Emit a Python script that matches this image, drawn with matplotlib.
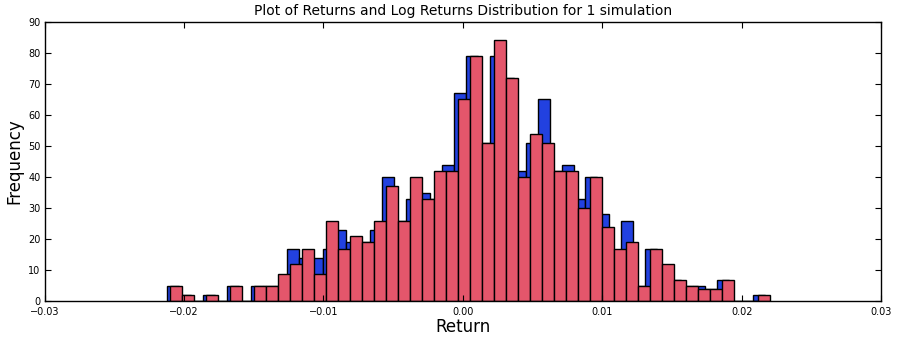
import numpy as np
import matplotlib
matplotlib.use("Agg")
import matplotlib.pyplot as plt

# ---- data ----
# Log returns (blue): 50 bins over [logret_min, logret_max]
logret_min, logret_max = -0.02120, 0.02163
logret_counts = [5, 2, 0, 2, 0, 5, 0, 5, 5, 5,
                 17, 14, 14, 17, 23, 19, 19, 23, 40, 26,
                 33, 35, 33, 44, 67, 79, 51, 79, 72, 42,
                 51, 65, 42, 44, 33, 40, 28, 16, 26, 5,
                 17, 11, 7, 5, 5, 4, 7, 0, 0, 2]
# Simple returns (red): 50 bins over [ret_min, ret_max]
ret_min, ret_max = -0.02098, 0.02203
ret_counts = [5, 2, 0, 2, 0, 5, 0, 5, 5, 9,
              12, 17, 9, 26, 17, 21, 19, 26, 37, 26,
              40, 33, 42, 42, 65, 79, 51, 84, 72, 40,
              54, 51, 42, 42, 30, 40, 24, 17, 19, 5,
              17, 12, 7, 5, 4, 4, 7, 0, 0, 2]

title = "Plot of Returns and Log Returns Distribution for 1 simulation"
xlabel = "Return"
ylabel = "Frequency"
xticks = [-0.03, -0.02, -0.01, 0.00, 0.01, 0.02, 0.03]
yticks = list(range(0, 91, 10))

# ---- figure ----
fig = plt.figure(figsize=(8.99, 3.43), dpi=100, facecolor="white")
ax = fig.add_axes([0.0495, 0.121, 0.931, 0.816])

def draw(lo, hi, counts, color):
    edges = np.linspace(lo, hi, len(counts) + 1)
    centers = (edges[:-1] + edges[1:]) / 2
    ax.hist(centers, bins=edges, weights=counts, color=color,
            edgecolor="black", linewidth=1.0)

draw(logret_min, logret_max, logret_counts, "#2241e0")
draw(ret_min, ret_max, ret_counts, "#e4566b")

ax.set_xlim(-0.03, 0.03)
ax.set_ylim(0, 90)
ax.set_xticks(xticks)
ax.set_xticklabels([f"{t:.2f}".replace("-", "\u2212") for t in xticks])
ax.set_yticks(yticks)
ax.tick_params(direction="in", top=True, right=True, labelsize=7, length=4)
ax.tick_params(axis="x", pad=4)
ax.tick_params(axis="y", pad=3)
for s in ax.spines.values():
    s.set_linewidth(1.0)
ax.set_title(title, fontsize=10, pad=5)
ax.set_xlabel(xlabel, fontsize=12, labelpad=1)
ax.set_ylabel(ylabel, fontsize=12, labelpad=3)

fig.savefig("out.png", dpi=100, facecolor="white")
